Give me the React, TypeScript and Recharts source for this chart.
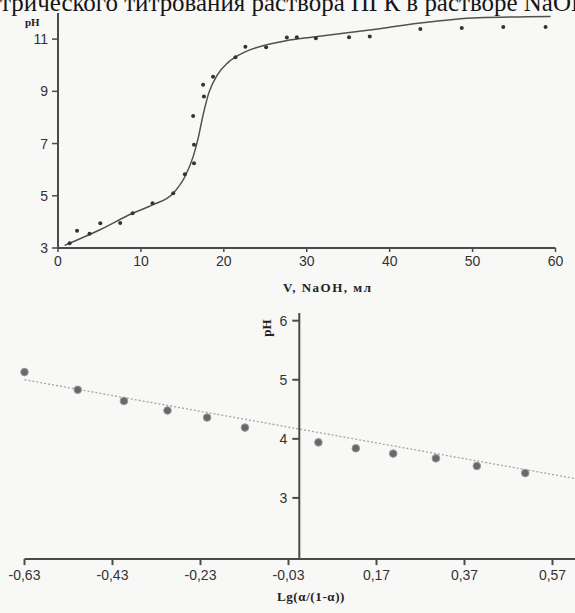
import React from 'react';
import { ComposedChart, Line, Scatter, XAxis, YAxis } from 'recharts';

// ---- Chart 1: titration curve ----
const X1_TICKS = [0, 10, 20, 30, 40, 50, 60];
const Y1_TICKS = [3, 5, 7, 9, 11];
const V1_POINTS = [1.4, 2.3, 3.8, 5.1, 7.5, 9.0, 11.4, 13.9, 15.3, 16.4, 16.4, 16.3, 17.6, 17.5, 18.7, 21.4, 22.6, 25.1, 27.6, 28.8, 31.1, 35.1, 37.6, 43.7, 48.7, 53.7, 58.8];
const PH1_POINTS = [3.18, 3.66, 3.55, 3.95, 3.96, 4.33, 4.71, 5.1, 5.82, 6.25, 6.95, 8.06, 8.8, 9.25, 9.56, 10.31, 10.71, 10.69, 11.06, 11.07, 11.03, 11.07, 11.1, 11.39, 11.43, 11.46, 11.46];
const V1_CURVE = [0.8, 5.0, 9.0, 11.4, 13.9, 15.3, 16.3, 16.9, 17.5, 18.2, 19.2, 20.5, 22.5, 25.1, 27.5, 30.8, 38.8, 43.7, 50.7, 59.4];
const PH1_CURVE = [3.1, 3.69, 4.33, 4.65, 5.1, 5.73, 6.5, 7.2, 8.1, 8.95, 9.62, 10.1, 10.5, 10.78, 10.94, 11.08, 11.4, 11.62, 11.82, 11.87];

// ---- Chart 2: log plot ----
const X2_TICKS = [-0.63, -0.43, -0.23, -0.03, 0.17, 0.37, 0.57];
const Y2_TICKS = [3, 4, 5, 6];
const LG2_POINTS = [-0.63, -0.509, -0.404, -0.305, -0.215, -0.129, 0.038, 0.123, 0.208, 0.305, 0.398, 0.508];
const PH2_POINTS = [5.13, 4.83, 4.64, 4.48, 4.36, 4.19, 3.94, 3.84, 3.75, 3.67, 3.54, 3.42];
const LG2_TREND = [-0.63, 0.62];
const PH2_TREND = [5.0, 3.33];

const TITLE = 'етрического титрования раствора ПГК в растворе NaOH';
const X1_LABEL = 'V, NaOH, мл';
const X2_LABEL = 'Lg(α/(1-α))';
const Y_LABEL = 'pH';

const pts1 = V1_POINTS.map((v, i) => ({ v, ph: PH1_POINTS[i] }));
const curve1 = V1_CURVE.map((v, i) => ({ v, ph: PH1_CURVE[i] }));
const pts2 = LG2_POINTS.map((v, i) => ({ v, ph: PH2_POINTS[i] }));
const trend2 = LG2_TREND.map((v, i) => ({ v, ph: PH2_TREND[i] }));

const AXIS = '#4a4a4a';
const tickStyle = { fill: '#333', fontSize: 14, fontFamily: 'Liberation Sans, Arial, sans-serif' };
const comma = (v: number) => String(v).replace('.', ',');

const smallDot = (p: any) => <circle cx={p.cx} cy={p.cy} r={2} fill="#333" />;
const bigDot = (p: any) => <circle cx={p.cx} cy={p.cy} r={3.8} fill="#686868" stroke="#9a9a9a" strokeWidth={1} />;
const noDot = () => <g />;

export default function App() {
  return (
    <div style={{ position: 'fixed', left: 0, top: 0, width: 575, height: 613, overflow: 'hidden', background: '#f8f8f6' }}>
      <svg width={575} height={30} style={{ position: 'absolute', left: 0, top: 0 }}>
        <text x={-11} y={10.5} fontSize={26} fontFamily="Liberation Serif, serif" fill="#151515" textLength={600} lengthAdjust="spacingAndGlyphs">{TITLE}</text>
      </svg>

      <div style={{ position: 'absolute', left: 0, top: 0 }}>
        <ComposedChart width={575} height={300} margin={{ top: 13, right: 19.5, bottom: 22, left: 18 }}>
          <XAxis type="number" dataKey="v" domain={[0, 60]} ticks={X1_TICKS} height={30} allowDataOverflow
            axisLine={{ stroke: AXIS, strokeWidth: 2 }} tickLine={{ stroke: AXIS, strokeWidth: 1.5 }} tickSize={4} tickMargin={4} tick={tickStyle} />
          <YAxis type="number" dataKey="ph" domain={[3, 12]} ticks={Y1_TICKS} width={40} allowDataOverflow
            axisLine={{ stroke: AXIS, strokeWidth: 2 }} tickLine={{ stroke: AXIS, strokeWidth: 1.5 }} tickSize={6} tickMargin={4} tick={tickStyle} />
          <Line data={curve1} dataKey="ph" type="monotone" stroke="#505050" strokeWidth={1.5} dot={false} isAnimationActive={false} />
          <Scatter data={pts1} dataKey="ph" shape={smallDot} isAnimationActive={false} />
        </ComposedChart>
      </div>

      <div style={{ position: 'absolute', left: 0, top: 300 }}>
        <ComposedChart width={620} height={313} margin={{ top: 13, right: 10.3, bottom: 24, left: 24.5 }}>
          <XAxis type="number" dataKey="v" domain={[-0.63, 0.7]} ticks={X2_TICKS} tickFormatter={comma} height={30}
            axisLine={{ stroke: AXIS, strokeWidth: 2 }} tickLine={{ stroke: AXIS, strokeWidth: 2 }} tickSize={6} tickMargin={5} tick={tickStyle} />
          <YAxis type="number" dataKey="ph" domain={[1.966, 6.13]} hide />
          <Line data={trend2} dataKey="ph" type="linear" stroke="#a5a5a5" strokeWidth={1.3} strokeDasharray="2 2" dot={false} isAnimationActive={false} />
          <Scatter data={pts2} dataKey="ph" shape={bigDot} isAnimationActive={false} />
        </ComposedChart>
      </div>

      <div style={{ position: 'absolute', left: 0, top: 300 }}>
        <ComposedChart width={340} height={313} margin={{ top: 13, right: 10, bottom: 54, left: 259.3 }}>
          <XAxis type="number" dataKey="v" hide />
          <YAxis type="number" dataKey="ph" domain={[1.966, 6.13]} ticks={Y2_TICKS} width={40}
            axisLine={{ stroke: AXIS, strokeWidth: 2 }} tickLine={{ stroke: AXIS, strokeWidth: 2 }} tickSize={7} tickMargin={5} tick={tickStyle} />
          <Scatter data={pts2} dataKey="ph" shape={noDot} isAnimationActive={false} />
        </ComposedChart>
      </div>

      <div style={{ position: 'absolute', left: 25, top: 17, fontFamily: 'Liberation Serif, serif', fontWeight: 'bold', fontSize: 11, lineHeight: '10px', color: '#222' }}>{Y_LABEL}</div>
      <div style={{ position: 'absolute', left: 283, top: 280, fontFamily: 'Liberation Serif, serif', fontWeight: 'bold', fontSize: 13, letterSpacing: 1.5, color: '#222' }}>{X1_LABEL}</div>
      <div style={{ position: 'absolute', left: 258, top: 320, transform: 'rotate(-90deg)', fontFamily: 'Liberation Serif, serif', fontWeight: 'bold', fontSize: 13, color: '#222' }}>{Y_LABEL}</div>
      <div style={{ position: 'absolute', left: 277, top: 589, fontFamily: 'Liberation Serif, serif', fontWeight: 'bold', fontSize: 13, letterSpacing: 0.6, color: '#222' }}>{X2_LABEL}</div>
    </div>
  );
}
